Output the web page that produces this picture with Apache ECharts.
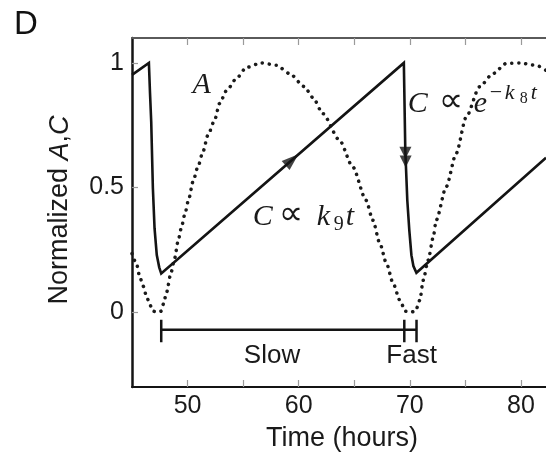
<!DOCTYPE html>
<html><head><meta charset="utf-8">
<script src="https://cdn.jsdelivr.net/npm/echarts@6/dist/echarts.min.js"></script>
<style>html,body{margin:0;padding:0;background:#fff}#c{width:546px;height:453px}</style>
</head><body><div id="c"></div>
<script>
// ---- data ----
const xTicks = [50, 55, 60, 65, 70, 75, 80];
const xLabels = [50, 60, 70, 80];
const yTicks = [0, 0.5, 1];
const seriesA = [
  [45.0, 0.235], [45.4, 0.195], [45.7, 0.142], [46.0, 0.105], [46.3, 0.065], [46.6, 0.03],
  [46.9, 0.004], [47.25, 0.0], [47.6, 0.004], [47.85, 0.035], [48.08, 0.075], [48.53, 0.162],
  [48.83, 0.215], [49.13, 0.282], [49.43, 0.336], [49.73, 0.389], [50.12, 0.456], [50.48, 0.523],
  [50.93, 0.583], [51.38, 0.643], [51.83, 0.71], [52.43, 0.77], [52.88, 0.837], [53.49, 0.888],
  [54.39, 0.937], [55.29, 0.982], [56.64, 1.0], [57.99, 0.991], [59.19, 0.957], [60.5, 0.905],
  [61.3, 0.86], [62.16, 0.797], [63.67, 0.69], [64.86, 0.583], [66.06, 0.449], [66.67, 0.369],
  [67.3, 0.276], [67.9, 0.195], [68.5, 0.115], [69.1, 0.048], [69.6, 0.004], [70.05, 0.0],
  [70.5, 0.004], [70.9, 0.048], [71.2, 0.128], [71.65, 0.209], [72.1, 0.3], [72.37, 0.369],
  [73.27, 0.503], [74.17, 0.637], [75.07, 0.783], [76.27, 0.904], [77.48, 0.957], [78.68, 0.998],
  [79.88, 1.0], [81.38, 0.99], [82.25, 0.97]
];
const seriesC = [
  [45.0, 0.952], [46.52, 1.0], [46.62, 0.88], [46.73, 0.763], [46.88, 0.496], [47.03, 0.336],
  [47.23, 0.229], [47.45, 0.18], [47.63, 0.155],
  [69.46, 1.0], [69.59, 0.65], [69.77, 0.449], [69.95, 0.329], [70.14, 0.229], [70.32, 0.185],
  [70.59, 0.158], [82.25, 0.62]
];
const arrowRise = [[59.4, 0.611]];
const arrowDrop = [[69.6, 0.64], [69.62, 0.605]];
const bracketY = -0.07;
const bracketX = [47.63, 69.5, 70.6];
const capY = [-0.03, -0.12];
const bracketNames = ['Slow', 'Fast'];
const bracketLabelAt = [[57.6, -0.176], [70.16, -0.176]];

// ---- chart ----
const chart = echarts.init(document.getElementById('c'), null, {renderer: 'canvas'});
const ink = '#141414';
const sans = '"Liberation Sans", Arial, sans-serif';
const serif = '"Liberation Serif", "DejaVu Serif", serif';

const capSeries = bracketX.map(x => ({
  type: 'line', xAxisIndex: 0, yAxisIndex: 0, symbol: 'none', silent: true,
  lineStyle: {color: ink, width: 2.5}, data: [[x, capY[0]], [x, capY[1]]]
}));

chart.setOption({
  animation: false,
  backgroundColor: '#fff',
  grid: {left: 132, right: 0, top: 38, bottom: 66, containLabel: false},
  xAxis: [{
    type: 'value', min: 45, max: 82.25, position: 'bottom',
    axisLine: {show: true, onZero: false, lineStyle: {color: ink, width: 2}},
    axisTick: {show: true, inside: true, length: 7, customValues: xTicks, lineStyle: {color: '#9a9a9a', width: 1.2}},
    axisLabel: {customValues: xLabels, fontSize: 25, color: '#1a1a1a', fontFamily: sans, margin: 7},
    splitLine: {show: false}
  }, {
    type: 'value', min: 45, max: 82.25, position: 'top',
    axisLine: {show: true, onZero: false, lineStyle: {color: '#5a5a5a', width: 2}},
    axisTick: {show: true, inside: true, length: 7, customValues: xTicks, lineStyle: {color: '#9a9a9a', width: 1.2}},
    axisLabel: {show: false}, splitLine: {show: false}
  }],
  yAxis: [{
    type: 'value', min: -0.3, max: 1.1,
    axisLine: {show: true, onZero: false, lineStyle: {color: ink, width: 2.5}},
    axisTick: {show: true, inside: true, length: 6, customValues: yTicks, lineStyle: {color: '#9a9a9a', width: 1.2}},
    axisLabel: {customValues: yTicks, fontSize: 25, color: '#1a1a1a', fontFamily: sans, margin: 8},
    splitLine: {show: false}
  }],
  series: [
    {
      type: 'line', name: 'A', data: seriesA, symbol: 'none', smooth: 0.25, smoothMonotone: 'x',
      lineStyle: {color: '#1a1a1a', width: 3.5, type: [0.1, 6.9], cap: 'round'}
    },
    {
      type: 'line', name: 'C', data: seriesC, symbol: 'none',
      lineStyle: {color: ink, width: 2.6, join: 'miter'}
    },
    {
      type: 'line', name: 'bracket', symbol: 'none', silent: true,
      lineStyle: {color: ink, width: 2.5},
      data: [[bracketX[0], bracketY], [bracketX[2], bracketY]]
    },
    ...capSeries,
    {
      type: 'scatter', name: 'arrowRise', data: arrowRise, symbol: 'triangle',
      symbolSize: [12, 17], symbolRotate: -49, itemStyle: {color: ink}, z: 5
    },
    {
      type: 'scatter', name: 'arrowDrop', data: arrowDrop, symbol: 'triangle',
      symbolSize: [12, 12], symbolRotate: 180, itemStyle: {color: ink}, z: 5
    }
  ]
});

function px(p) { return chart.convertToPixel({gridIndex: 0}, p); }

function mathPieces(anchor, pieces) {
  const o = px(anchor);
  return pieces.map(p => {
    const s = p.size || 30;
    return {
      type: 'text', x: o[0] + p.dx, y: o[1] + (p.dy || 0) + 0.22 * s, silent: true,
      style: {
        text: p.t, fill: '#1a1a1a', fontFamily: p.ff || serif, fontSize: s,
        fontStyle: p.it ? 'italic' : 'normal', align: 'left', verticalAlign: 'bottom'
      }
    };
  });
}

const prop = '"DejaVu Sans", sans-serif';
const graphics = [];
// panel letter
graphics.push({type: 'text', x: 14, y: 8, style: {text: 'D', fontFamily: sans, fontSize: 33, fill: '#111'}});
// x axis title
graphics.push({type: 'text', x: 342, y: 439, style: {text: 'Time (hours)', fontFamily: sans, fontSize: 27, fill: '#1a1a1a', align: 'center', verticalAlign: 'middle'}});
// y axis title
graphics.push({type: 'text', x: 60, y: 210, rotation: Math.PI / 2, style: {
  text: 'Normalized {i|A},{i|C}', fontFamily: sans, fontSize: 27, fill: '#1a1a1a', align: 'center', verticalAlign: 'middle',
  rich: {i: {fontStyle: 'italic', fontFamily: sans, fontSize: 27, fill: '#1a1a1a'}}
}});
// bracket labels
bracketNames.forEach((n, i) => {
  const p = px(bracketLabelAt[i]);
  graphics.push({type: 'text', x: p[0], y: p[1], style: {text: n, fontFamily: sans, fontSize: 26, fill: '#1a1a1a', align: 'center', verticalAlign: 'middle'}});
});
// math annotations
graphics.push(...mathPieces([50.45, 0.878], [{t: 'A', dx: 0, it: true}]));
graphics.push(...mathPieces([55.86, 0.349], [
  {t: 'C', dx: 0, it: true}, {t: '\u221D', dx: 26, dy: -1, size: 34, ff: prop}, {t: 'k', dx: 64, it: true},
  {t: '9', dx: 81, dy: 5, size: 20}, {t: 't', dx: 93, it: true}
]));
graphics.push(...mathPieces([69.82, 0.802], [
  {t: 'C', dx: 0, it: true}, {t: '\u221D', dx: 31, dy: -1, size: 34, ff: prop}, {t: 'e', dx: 66, it: true},
  {t: '\u2212', dx: 82, dy: -13, size: 22}, {t: 'k', dx: 97, dy: -13, size: 22, it: true},
  {t: '8', dx: 112, dy: -9, size: 16}, {t: 't', dx: 123, dy: -13, size: 22, it: true}
]));
chart.setOption({graphic: graphics});
</script></body></html>
